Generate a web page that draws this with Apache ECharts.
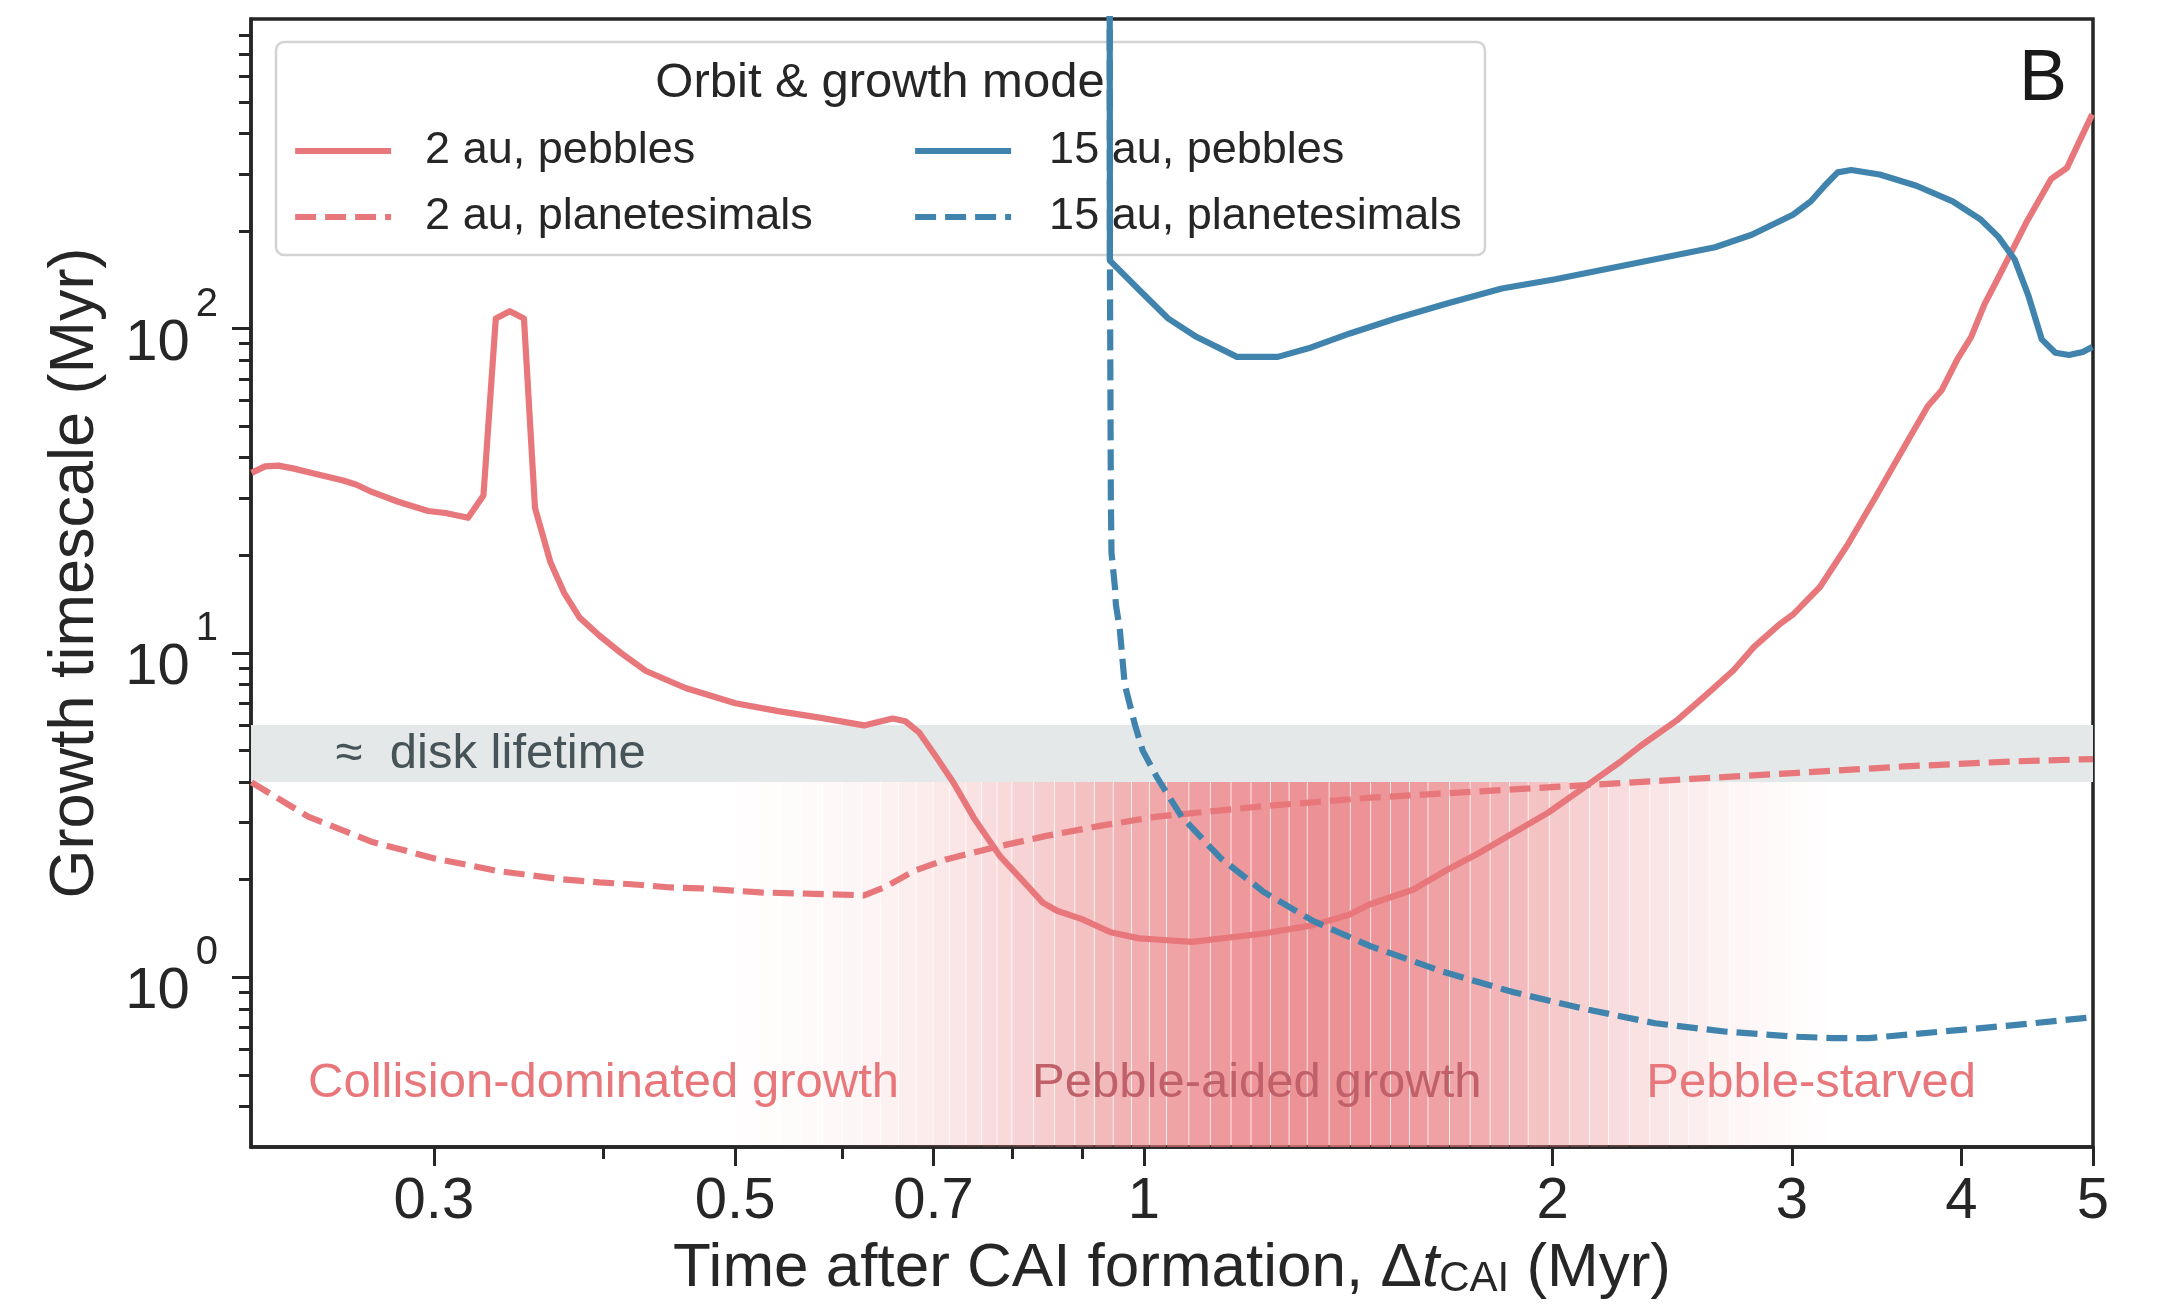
<!DOCTYPE html>
<html>
<head>
<meta charset="utf-8">
<script src="https://cdn.jsdelivr.net/npm/echarts@6/dist/echarts.min.js"></script>
<style>
  html, body { margin: 0; padding: 0; background: #ffffff; }
  #chart { width: 2166px; height: 1306px; }
</style>
</head>
<body>
<div id="chart"></div>
<script>
// ---- data -------------------------------------------------------------
// Time after CAI formation (Myr) and growth timescale (Myr)

const pebbles2auT = [0.2202, 0.2253, 0.2305, 0.2366, 0.2439, 0.2572, 0.2631, 0.2703, 0.2827, 0.2971,
  0.3059, 0.3179, 0.3263, 0.3332, 0.3412, 0.3495, 0.3561, 0.3656, 0.3742, 0.3841,
  0.3973, 0.412, 0.4298, 0.4596, 0.5002, 0.5379, 0.5784, 0.6222, 0.653, 0.6673,
  0.6833, 0.7024, 0.7241, 0.7506, 0.7831, 0.8123, 0.8424, 0.863, 0.9003, 0.945,
  0.992, 1.0276, 1.085, 1.225, 1.333, 1.416, 1.467, 1.578, 1.677, 1.76,
  1.847, 1.985, 2.109, 2.24, 2.323, 2.468, 2.591, 2.717, 2.814, 2.937,
  3.006, 3.148, 3.299, 3.456, 3.648, 3.778, 3.867, 3.972, 4.066, 4.161,
  4.244, 4.36, 4.461, 4.657, 4.784, 4.878, 4.993];
const pebbles2auV = [35.9, 37.6, 37.8, 37.0, 35.9, 34.0, 33.0, 31.3, 29.2, 27.4,
  27.0, 26.1, 30.6, 107.4, 113.1, 107.4, 28.0, 19.0, 15.3, 12.85,
  11.3, 10.0, 8.8, 7.8, 7.0, 6.62, 6.31, 5.98, 6.28, 6.16,
  5.68, 4.81, 3.98, 3.07, 2.37, 2.01, 1.70, 1.604, 1.512, 1.377,
  1.319, 1.306, 1.286, 1.365, 1.449, 1.559, 1.68, 1.863, 2.16, 2.40,
  2.70, 3.22, 3.85, 4.60, 5.18, 6.19, 7.39, 8.83, 10.44, 12.23,
  13.13, 16.0, 21.6, 30.1, 44.7, 57.6, 64.4, 80.3, 94.1, 119.2,
  139.7, 174.3, 210.7, 289.0, 312.9, 372.2, 457.5];

const planetesimals2auT = [0.2202, 0.2424, 0.2698, 0.3003, 0.3342, 0.3718, 0.3973, 0.4193, 0.4484, 0.472,
  0.5219, 0.5719, 0.6222, 0.645, 0.6773, 0.715, 0.7739, 0.8474, 0.928, 1.022,
  1.225, 1.468, 1.76, 2.109, 2.528, 3.03, 3.632, 4.353, 5.0];
const planetesimals2auV = [3.99, 3.13, 2.62, 2.327, 2.128, 2.008, 1.962, 1.937, 1.893, 1.88,
  1.827, 1.81, 1.79, 1.90, 2.13, 2.31, 2.51, 2.73, 2.93, 3.13,
  3.37, 3.58, 3.74, 3.91, 4.09, 4.27, 4.47, 4.63, 4.71];

const pebbles15auT = [0.9435, 0.944, 0.993, 1.042, 1.093, 1.171, 1.255, 1.322, 1.418, 1.533,
  1.672, 1.835, 2.009, 2.291, 2.634, 2.803, 3.006, 3.099, 3.172, 3.243,
  3.318, 3.482, 3.706, 3.941, 4.129, 4.259, 4.377, 4.479, 4.584, 4.691,
  4.801, 4.914, 4.994];
const pebbles15auV = [3000, 162, 131, 107.4, 94.3, 81.8, 81.8, 86.9, 96.6, 107.4,
  119.5, 132.9, 141.9, 158.5, 178.1, 194.6, 224.4, 246.8, 275.6, 303.0,
  308.1, 298.5, 275.6, 246.8, 217.5, 191.7, 163.6, 127.1, 92.6, 84.2,
  82.9, 84.7, 87.7];

const planetesimals15auT = [0.9435, 0.944, 0.9455, 0.9465, 0.952, 0.9536, 0.960, 0.968, 0.985, 0.998,
  1.022, 1.066, 1.139, 1.225, 1.333, 1.468, 1.656, 1.869, 2.109, 2.38,
  2.686, 3.03, 3.22, 3.42, 3.86, 4.353, 5.0];
const planetesimals15auV = [3000, 160, 30, 20.4, 16.0, 14.1, 11.8, 8.0, 6.0, 5.0,
  4.15, 3.13, 2.33, 1.835, 1.49, 1.248, 1.045, 0.901, 0.80, 0.722,
  0.68, 0.656, 0.65, 0.65, 0.68, 0.711, 0.754];

// Pebble-aided window: strip edges (Myr) and shading strength of each strip
const shadeEdges = [0.50, 0.52, 0.54, 0.56, 0.58, 0.60, 0.62, 0.64, 0.66, 0.68,
  0.70, 0.72, 0.74, 0.76, 0.78, 0.80, 0.83, 0.86, 0.89, 0.92,
  0.95, 0.98, 1.01, 1.04, 1.08, 1.12, 1.16, 1.20, 1.24, 1.28,
  1.32, 1.37, 1.42, 1.47, 1.52, 1.57, 1.62, 1.68, 1.74, 1.80,
  1.86, 1.92, 1.99, 2.06, 2.13, 2.20, 2.28, 2.36, 2.44, 2.52,
  2.61, 2.70, 2.80, 2.90, 3.00, 3.10, 3.20];
const shadeAlpha = [0.015, 0.02, 0.03, 0.04, 0.05, 0.065, 0.08, 0.10, 0.12, 0.14,
  0.16, 0.19, 0.22, 0.25, 0.28, 0.32, 0.36, 0.41, 0.46, 0.51,
  0.56, 0.60, 0.64, 0.68, 0.71, 0.74, 0.76, 0.78, 0.79, 0.80,
  0.81, 0.81, 0.80, 0.78, 0.76, 0.73, 0.69, 0.65, 0.60, 0.55,
  0.50, 0.45, 0.40, 0.35, 0.30, 0.26, 0.22, 0.18, 0.15, 0.12,
  0.09, 0.07, 0.05, 0.035, 0.02, 0.01];

const diskLifetime = [4, 6];              // Myr band
const diskLabelAt = [0.254, 4.85];        // where the band label starts

const regionLabels = ['Collision-dominated growth', 'Pebble-aided growth', 'Pebble-starved'];
const regionLabelT = [0.400, 1.211, 3.10];
const regionLabelV = 0.47;

const xRange = [0.22, 5];
const yRange = [0.3, 900];
const xMajorTicks = [0.3, 0.5, 0.7, 1, 2, 3, 4, 5];
const xMinorTicks = [0.4, 0.6, 0.8, 0.9];
const yMajorTicks = [1, 10, 100];
const yMinorTicks = [0.4, 0.5, 0.6, 0.7, 0.8, 0.9, 2, 3, 4, 5, 6, 7, 8, 9,
  20, 30, 40, 50, 60, 70, 80, 90, 200, 300, 400, 500, 600, 700, 800];

// ---- styling ----------------------------------------------------------
const FONT = '"Liberation Sans", Arial, Helvetica, sans-serif';
const INK = '#262626';
const RED = '#e8777b';
const RED_RGB = '232,119,123';
const BLUE = '#4084ae';
const LINE_W = 6.2;
const DASH = [21, 9];

const zip = (t, v) => t.map((x, i) => [x, v[i]]);
const strips = shadeAlpha.map((a, i) => [shadeEdges[i], shadeEdges[i + 1], a]);

const chart = echarts.init(document.getElementById('chart'), null, { renderer: 'canvas' });

function lineSeries(name, t, v, color, dashed) {
  return {
    name, type: 'line', data: zip(t, v),
    xAxisIndex: 0, yAxisIndex: 0,
    symbol: 'none', showSymbol: false, clip: true, z: 3,
    lineStyle: { color, width: LINE_W, type: dashed ? DASH : 'solid', join: 'round', cap: 'butt' },
    itemStyle: { color },
    emphasis: { disabled: true }
  };
}

const legendCommon = {
  orient: 'vertical', top: 126, padding: 0,
  itemWidth: 96, itemHeight: 14, itemGap: 16,
  selectedMode: false,
  itemStyle: { color: 'transparent', borderWidth: 0 },
  lineStyle: { width: LINE_W },
  textStyle: { fontSize: 45, fontFamily: FONT, color: INK, lineHeight: 50 }
};

const option = {
  animation: false,
  backgroundColor: '#ffffff',
  grid: { left: 251, right: 73, top: 19, bottom: 159, show: true, borderColor: INK, borderWidth: 3.5, backgroundColor: 'transparent' },
  xAxis: [
    {
      type: 'log', min: xRange[0], max: xRange[1], position: 'bottom',
      axisLine: { show: true, lineStyle: { color: INK, width: 3.5 } },
      axisTick: { show: true, customValues: xMajorTicks, length: 19, lineStyle: { color: INK, width: 3 } },
      axisLabel: {
        show: true, customValues: xMajorTicks, margin: 26,
        fontSize: 58, fontFamily: FONT, color: INK,
        formatter: v => String(parseFloat(Number(v).toPrecision(3)))
      },
      splitLine: { show: false },
      name: '{n|Time after CAI formation, Δ}{i|t}{s|CAI}{n| (Myr)}',
      nameLocation: 'middle', nameGap: 91,
      nameTextStyle: {
        color: INK, fontFamily: FONT,
        rich: {
          n: { fontSize: 62, fontFamily: FONT, color: INK, lineHeight: 62 },
          i: { fontSize: 62, fontFamily: FONT, color: INK, fontStyle: 'italic', lineHeight: 62 },
          s: { fontSize: 42, fontFamily: FONT, color: INK, verticalAlign: 'bottom' }
        }
      }
    },
    {
      type: 'log', min: xRange[0], max: xRange[1], position: 'bottom',
      axisLine: { show: false },
      axisTick: { show: true, customValues: xMinorTicks, length: 12, lineStyle: { color: INK, width: 3 } },
      axisLabel: { show: false },
      splitLine: { show: false }
    }
  ],
  yAxis: [
    {
      type: 'log', min: yRange[0], max: yRange[1], position: 'left',
      axisLine: { show: true, lineStyle: { color: INK, width: 3.5 } },
      axisTick: { show: true, customValues: yMajorTicks, length: 19, lineStyle: { color: INK, width: 3 } },
      axisLabel: {
        show: true, customValues: yMajorTicks, margin: 33,
        color: INK, fontFamily: FONT,
        formatter: v => '{b|10}{s|' + Math.round(Math.log10(v)) + '}',
        rich: {
          b: { fontSize: 58, fontFamily: FONT, color: INK, lineHeight: 88, verticalAlign: 'bottom' },
          s: { fontSize: 40, fontFamily: FONT, color: INK, verticalAlign: 'top', padding: [0, 0, 0, 6] }
        }
      },
      splitLine: { show: false },
      name: 'Growth timescale (Myr)',
      nameLocation: 'middle', nameGap: 144, nameRotate: 90,
      nameTextStyle: { fontSize: 63, fontFamily: FONT, color: INK, padding: [0, 0, 0, 20] }
    },
    {
      type: 'log', min: yRange[0], max: yRange[1], position: 'left',
      axisLine: { show: false },
      axisTick: { show: true, customValues: yMinorTicks, length: 12, lineStyle: { color: INK, width: 3 } },
      axisLabel: { show: false },
      splitLine: { show: false }
    }
  ],
  legend: [
    Object.assign({}, legendCommon, {
      left: 292,
      data: ['2 au, pebbles', '2 au, planetesimals'],
      textStyle: Object.assign({}, legendCommon.textStyle, { padding: [0, 0, 0, 29] })
    }),
    Object.assign({}, legendCommon, {
      left: 912,
      data: ['15 au, pebbles', '15 au, planetesimals'],
      textStyle: Object.assign({}, legendCommon.textStyle, { padding: [0, 0, 0, 33] })
    })
  ],
  graphic: [
    {
      type: 'rect', z: 3, silent: true,
      shape: { x: 276, y: 42, width: 1209, height: 213, r: 8 },
      style: { fill: 'rgba(255,255,255,0.8)', stroke: '#d3d3d3', lineWidth: 2.5 }
    },
    {
      type: 'text', z: 5, silent: true, x: 880, y: 83,
      style: { text: 'Orbit & growth mode', fontSize: 49, fontFamily: FONT, fill: INK, align: 'center', verticalAlign: 'middle' }
    },
    {
      type: 'text', z: 5, silent: true, x: 2067, y: 80,
      style: { text: 'B', fontSize: 72, fontFamily: FONT, fill: '#1a1a1a', align: 'right', verticalAlign: 'middle' }
    }
  ],
  series: [
    {
      // disk lifetime band
      type: 'custom', z: 1, silent: true,
      data: [diskLifetime],
      encode: { y: [0, 1] },
      renderItem: (params, api) => {
        const cs = params.coordSys;
        const top = api.coord([xRange[0], api.value(1)])[1];
        const bottom = api.coord([xRange[0], api.value(0)])[1];
        return { type: 'rect', shape: { x: cs.x, y: top, width: cs.width, height: bottom - top }, style: { fill: '#e4e8e9' } };
      }
    },
    {
      // pebble-aided shading, drawn as thin vertical strips
      type: 'custom', z: 1, silent: true,
      data: strips,
      encode: { x: [0, 1] },
      renderItem: (params, api) => {
        const p0 = api.coord([api.value(0), diskLifetime[0]]);
        const p1 = api.coord([api.value(1), yRange[0]]);
        return {
          type: 'rect',
          shape: { x: p0[0], y: p0[1], width: p1[0] - p0[0] - 0.8, height: p1[1] - p0[1] },
          style: { fill: 'rgba(' + RED_RGB + ',' + api.value(2) + ')' }
        };
      }
    },
    {
      // band label
      type: 'custom', z: 2, silent: true,
      data: [diskLabelAt],
      renderItem: (params, api) => {
        const p = api.coord([api.value(0), api.value(1)]);
        return { type: 'text', x: p[0], y: p[1], style: { text: '≈  disk lifetime', fontSize: 49, fontFamily: FONT, fill: '#465459', align: 'left', verticalAlign: 'middle' } };
      }
    },
    {
      // growth regime labels
      type: 'custom', z: 2, silent: true,
      data: regionLabelT.map((t, i) => [t, regionLabelV, i]),
      renderItem: (params, api) => {
        const p = api.coord([api.value(0), api.value(1)]);
        const i = api.value(2);
        return {
          type: 'text', x: p[0], y: p[1],
          style: { text: regionLabels[i], fontSize: 49, fontFamily: FONT, fill: i === 1 ? '#c0616a' : RED, align: 'center', verticalAlign: 'middle' }
        };
      }
    },
    lineSeries('2 au, pebbles', pebbles2auT, pebbles2auV, RED, false),
    lineSeries('2 au, planetesimals', planetesimals2auT, planetesimals2auV, RED, true),
    lineSeries('15 au, pebbles', pebbles15auT, pebbles15auV, BLUE, false),
    lineSeries('15 au, planetesimals', planetesimals15auT, planetesimals15auV, BLUE, true)
  ]
};

chart.setOption(option);
</script>
</body>
</html>
